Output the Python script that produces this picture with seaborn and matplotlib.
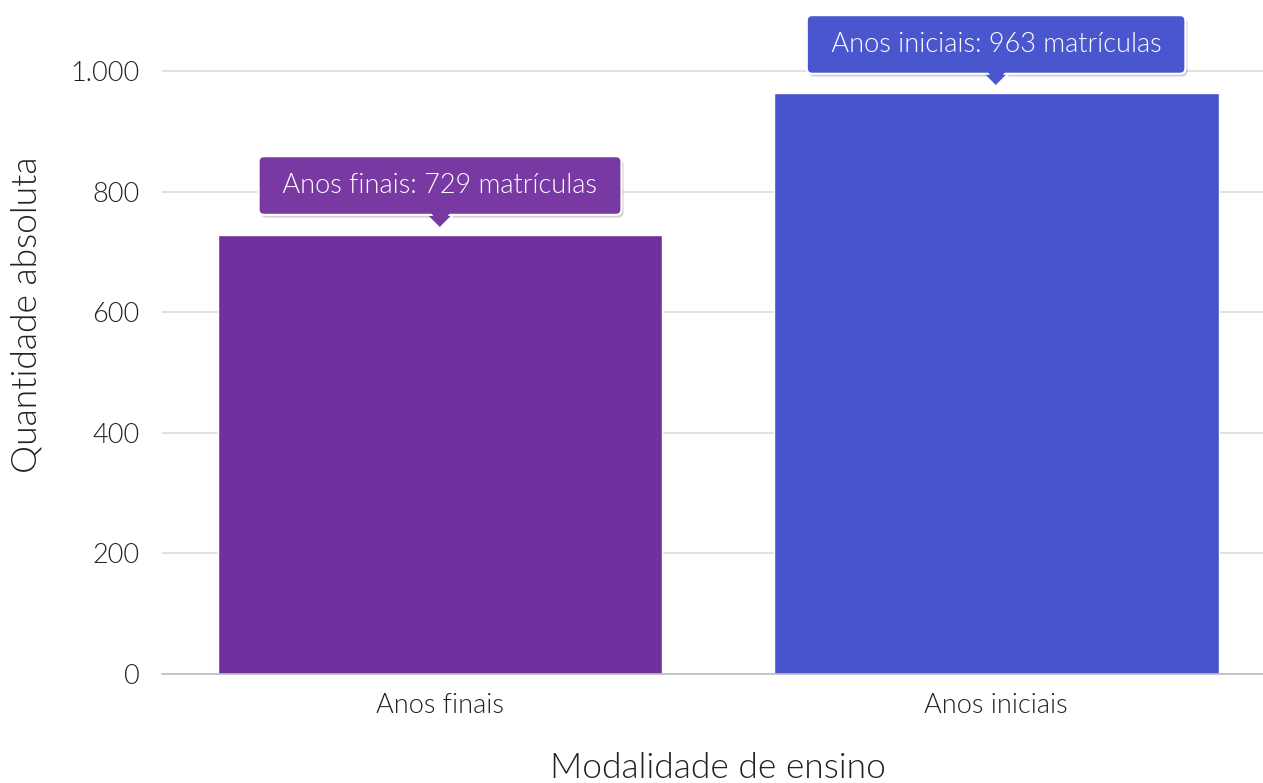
import numpy as np
import matplotlib.pyplot as plt
import pandas as pd
import seaborn as sns

# chart data
categories = ["Anos finais", "Anos iniciais"]
values = [729, 963]
bar_colors = ["#70319E", "#4753CB"]
box_colors = ["#7839A3", "#4A56CD"]
y_ticks = [0, 200, 400, 600, 800, 1000]

df = pd.DataFrame({"modalidade": categories, "quantidade": values})

sns.set_theme(style="white")
plt.rcParams["font.family"] = ["Lato", "DejaVu Sans"]
plt.rcParams["font.weight"] = 300
plt.rcParams["axes.labelweight"] = 300

fig = plt.figure(figsize=(12.63, 7.83), dpi=100)
ax = fig.add_axes([162 / 1263, 1 - 674 / 783, 1 - 162 / 1263, 674 / 783])

sns.barplot(data=df, x="modalidade", y="quantidade", hue="modalidade",
            palette=bar_colors, width=0.8, saturation=1, legend=False, ax=ax)

ax.set_xlim(-0.5, 1.48)
ax.set_ylim(0, 1118)
ax.set_yticks(y_ticks)
ax.set_yticklabels([f"{v:,}".replace(",", ".") for v in y_ticks])
ax.yaxis.grid(True, color="#DDDDDD", linewidth=1.2)
ax.set_axisbelow(True)
for side in ["top", "right", "left"]:
    ax.spines[side].set_visible(False)
ax.spines["bottom"].set_color("#BBBBBB")
ax.spines["bottom"].set_linewidth(1.2)
ax.tick_params(axis="both", length=0, labelsize=19.5, colors="#222222")
ax.tick_params(axis="y", pad=16)
ax.tick_params(axis="x", pad=14)
for lab in ax.get_xticklabels() + ax.get_yticklabels():
    lab.set_fontweight(300)

ax.set_xlabel("Modalidade de ensino", fontsize=25.5, color="#222222", labelpad=24, x=0.505)
ax.set_ylabel("Quantidade absoluta", fontsize=25.5, color="#222222", labelpad=20, y=0.533)

# tooltips
px = 0.72  # points per pixel
pointer_edge = [(-1, 0), (1, 0), (0, -1)]
pointer_fill = [(-1, 0.25), (1, 0.25), (0, -1)]
for i, (cat, val) in enumerate(zip(categories, values)):
    base = val + 21 / 0.603
    label = f" {cat}: {val} matrículas "
    ax.plot(i, base, marker=pointer_edge, markersize=19, color=box_colors[i],
            markeredgecolor="white", markeredgewidth=1.5, zorder=4)
    # shadow
    ax.annotate(label, xy=(i, val), xytext=(1.5, 49 * px - 2),
                textcoords="offset points", ha="center", va="center",
                fontsize=19.5, color="none", zorder=3,
                bbox=dict(boxstyle="round,pad=0.62,rounding_size=0.2",
                          fc="#000000", alpha=0.18, ec="none"))
    ax.annotate(label, xy=(i, val), xytext=(0, 49 * px),
                textcoords="offset points", ha="center", va="center",
                fontsize=19.5, color="white", zorder=5,
                bbox=dict(boxstyle="round,pad=0.62,rounding_size=0.2",
                          fc=box_colors[i], ec="white", lw=1.5))
    ax.plot(i, base, marker=pointer_fill, markersize=15, color=box_colors[i],
            markeredgewidth=0, zorder=6)

fig.savefig("out.png", dpi=100)
